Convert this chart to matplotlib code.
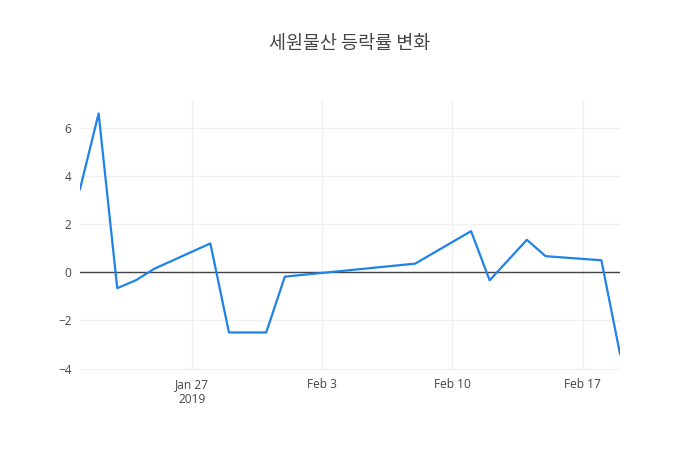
import matplotlib
matplotlib.use("Agg")
import matplotlib.pyplot as plt
import pandas as pd

title = "세원물산 등락률 변화"
dates = ["2019-01-21", "2019-01-22", "2019-01-23", "2019-01-24", "2019-01-25",
         "2019-01-28", "2019-01-29", "2019-01-30", "2019-01-31", "2019-02-01",
         "2019-02-08", "2019-02-11", "2019-02-12", "2019-02-14",
         "2019-02-15", "2019-02-18", "2019-02-19"]
values = [3.46, 6.6, -0.66, -0.33, 0.15,
          1.2, -2.5, -2.5, -2.5, -0.18,
          0.36, 1.71, -0.33, 1.35,
          0.67, 0.5, -3.39]
yticks = [-4, -2, 0, 2, 4, 6]
ytick_labels = ["\u22124", "\u22122", "0", "2", "4", "6"]
xtick_dates = ["2019-01-27", "2019-02-03", "2019-02-10", "2019-02-17"]
xtick_labels = ["Jan 27\n2019", "Feb 3", "Feb 10", "Feb 17"]

x = pd.to_datetime(dates)

fig = plt.figure(figsize=(7, 4.5), dpi=100)
ax = fig.add_axes([80/700, 80/450, 540/700, 270/450])

ax.plot(x, values, color="#1f82e6", linewidth=1.6, zorder=3)
ax.axhline(0, color="#444444", linewidth=1.0, zorder=2)

ax.set_xlim(pd.Timestamp("2019-01-21"), pd.Timestamp("2019-02-19"))
ax.set_ylim(-4.06, 7.16)
ax.set_yticks(yticks)
ax.set_yticklabels(ytick_labels)
ax.set_xticks(pd.to_datetime(xtick_dates))
ax.set_xticklabels(xtick_labels)

ax.grid(True, color="#f0f0f0", linewidth=1.0, zorder=0)
for s in ax.spines.values():
    s.set_visible(False)
ax.tick_params(length=0, colors="#444444", labelsize=8.6, pad=6)
for lab in ax.get_xticklabels() + ax.get_yticklabels():
    lab.set_family(["Open Sans", "DejaVu Sans"])
    lab.set_color("#444444")

fig.text(350/700, 1 - 44/450, title, ha="center", va="center",
         fontsize=13.3, color="#444444",
         family=["Noto Sans CJK KR", "DejaVu Sans"])

fig.savefig("out.png", dpi=100)
